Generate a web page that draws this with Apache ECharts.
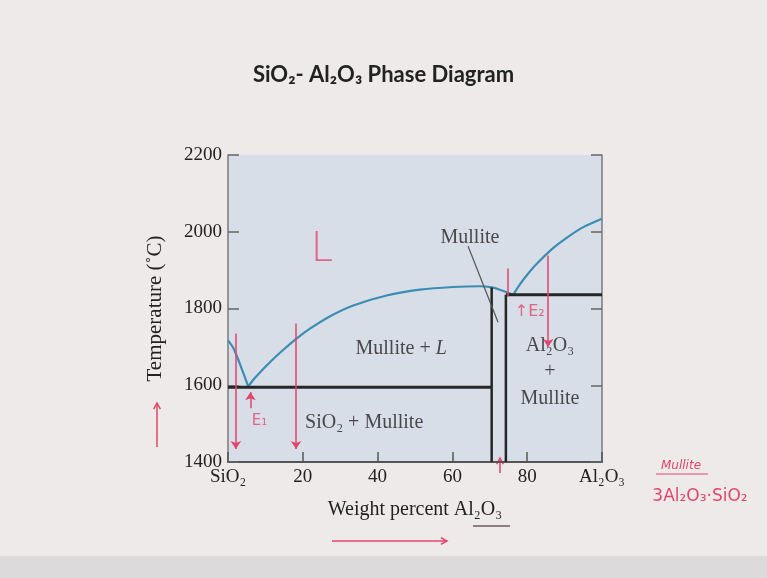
<!DOCTYPE html>
<html><head><meta charset="utf-8">
<script src="https://cdn.jsdelivr.net/npm/echarts@6/dist/echarts.min.js"></script>
<style>html,body{margin:0;padding:0;background:#eeeaea;} #c{width:767px;height:578px;}</style>
</head><body><div id="c"></div>
<script>
// ---- data ----
const xTickValues = [0, 20, 40, 60, 80, 100];
const xTickLabels = ['SiO₂', '20', '40', '60', '80', 'Al₂O₃'];
const yTickValues = [1400, 1600, 1800, 2000, 2200];

const liquidusSiO2 = [[0,1717],[1.5,1696],[3.2,1655],[4.5,1621],[5.4,1597]];
const liquidusMullite = [[5.4,1597],[7,1617],[9,1638],[11.2,1660],[14.5,1690],[18.4,1722],[22,1748],[27.3,1780],[33.5,1808],[42.4,1834],[51.3,1849],[60.2,1856],[67.4,1858],[70.5,1855],[72.7,1849],[75.4,1839],[76.3,1836]];
const liquidusAl2O3 = [[76.3,1836],[78,1862],[80,1888],[82.5,1916],[87,1958],[91.4,1990],[95,2012],[100,2034]];
const eutecticLine = [[0,1595],[70.5,1595]];
const peritecticLine = [[74.3,1836],[100,1836]];
const mulliteLeft = [[70.5,1400],[70.5,1855]];
const mulliteRight = [[74.3,1400],[74.3,1836]];
const leaderLine = [[64.2,1962],[72.2,1764]];

const regionLabelText = ['Mullite', 'Mullite + {i|L}', 'Al₂O₃', '+', 'Mullite', 'SiO₂ + Mullite'];
const regionLabelPos = [[64.7,1984],[46.3,1696],[86.1,1704],[86.1,1634],[86.1,1566],[36.4,1501]];

const noteArrowSegs = [[[2.1,1735],[2.1,1434]], [[18.2,1761],[18.2,1434]], [[6.0,1540],[6.0,1582]], [[85.6,1938],[85.6,1700]]];
const notePlainSegs = [[[74.9,1904],[74.9,1831]]];
const noteText = ['L', 'E₁', '↑E₂'];
const noteTextPos = [[25.1,1951],[8.4,1506],[80.7,1790]];
const noteTextSize = [40, 15, 16];
const noteTextWeight = ['lighter', 'normal', 'normal'];

// ---- chart ----
const chart = echarts.init(document.getElementById('c'));
const serif = 'Liberation Serif';
const red = '#e3456a';
const teal = '#3b8db3';
const dark = '#262626';

function lineSeries(data, color, width) {
  return { type: 'line', data: data, showSymbol: false, symbol: 'none', silent: true,
    lineStyle: { color: color, width: width }, z: 3 };
}
function curveSeries(data) {
  return Object.assign(lineSeries(data, teal, 2.2), { smooth: 0.3 });
}

const labelData = regionLabelPos.map((p, i) => ({ value: p, name: regionLabelText[i] }));
const noteData = noteTextPos.map((p, i) => ({ value: p, name: noteText[i],
  label: { fontSize: noteTextSize[i], fontWeight: noteTextWeight[i] } }));

const markSegs = noteArrowSegs.map(s => [{ coord: s[0], symbol: 'none' }, { coord: s[1], symbol: 'arrow' }])
  .concat(notePlainSegs.map(s => [{ coord: s[0], symbol: 'none' }, { coord: s[1], symbol: 'none' }]));

function arrow(x1, y1, x2, y2) {
  const a = Math.atan2(y2 - y1, x2 - x1), L = 7, w = 0.5;
  return [
    { type: 'line', shape: { x1, y1, x2, y2 }, style: { stroke: red, lineWidth: 1.5 } },
    { type: 'polyline', shape: { points: [[x2 - L*Math.cos(a-w), y2 - L*Math.sin(a-w)], [x2, y2], [x2 - L*Math.cos(a+w), y2 - L*Math.sin(a+w)]] }, style: { stroke: red, lineWidth: 1.5, fill: null } }
  ];
}

chart.setOption({
  backgroundColor: '#eeeaea',
  animation: false,
  title: {
    text: 'SiO₂- Al₂O₃ Phase Diagram', left: 'center', top: 59,
    textStyle: { fontFamily: 'Lato', fontWeight: 'bold', fontSize: 22, color: '#222' }
  },
  grid: { left: 228, right: 165, top: 155, bottom: 116, show: true,
    backgroundColor: '#d8dee7', borderWidth: 0 },
  xAxis: {
    type: 'value', min: 0, max: 100, interval: 20,
    name: 'Weight percent Al₂O₃', nameLocation: 'middle', nameGap: 38,
    nameTextStyle: { fontFamily: serif, fontSize: 20, color: '#222' },
    axisLine: { show: true, lineStyle: { color: '#555', width: 2 } },
    axisTick: { show: true, inside: true, length: 10, lineStyle: { color: '#555', width: 1.5 } },
    axisLabel: { fontFamily: serif, fontSize: 19, color: '#222', margin: 6,
      formatter: v => { const i = xTickValues.indexOf(v); return i >= 0 ? xTickLabels[i] : ''; } },
    splitLine: { show: false }
  },
  yAxis: [{
    type: 'value', min: 1400, max: 2200, interval: 200,
    name: 'Temperature (˚C)', nameLocation: 'middle', nameGap: 62, nameRotate: 90,
    nameTextStyle: { fontFamily: serif, fontSize: 21, color: '#222' },
    axisLine: { show: true, lineStyle: { color: '#7a7a7a', width: 1.5 } },
    axisTick: { show: true, inside: true, length: 11, lineStyle: { color: '#666', width: 1.5 } },
    axisLabel: { fontFamily: serif, fontSize: 19, color: '#222', margin: 6,
      formatter: v => yTickValues.indexOf(v) >= 0 ? String(v) : '' },
    splitLine: { show: false }
  }, {
    type: 'value', min: 1400, max: 2200, interval: 200, position: 'right',
    axisLine: { show: true, lineStyle: { color: '#7a7a7a', width: 1.5 } },
    axisTick: { show: true, inside: true, length: 11, lineStyle: { color: '#666', width: 1.5 } },
    axisLabel: { show: false }, splitLine: { show: false }
  }],
  series: [
    curveSeries(liquidusSiO2),
    curveSeries(liquidusMullite),
    curveSeries(liquidusAl2O3),
    lineSeries(eutecticLine, dark, 3),
    lineSeries(peritecticLine, dark, 3),
    lineSeries(mulliteLeft, dark, 2.5),
    lineSeries(mulliteRight, dark, 2.5),
    lineSeries(leaderLine, '#555', 1.2),
    {
      type: 'scatter', data: labelData, symbolSize: 1, itemStyle: { color: 'transparent' }, silent: true, z: 5,
      label: { show: true, position: 'inside', formatter: '{b}', fontFamily: serif, fontSize: 20, color: '#222',
        rich: { i: { fontFamily: serif, fontStyle: 'italic', fontSize: 20, color: '#222' } } }
    },
    {
      type: 'scatter', data: noteData, symbolSize: 1, itemStyle: { color: 'transparent' }, silent: true, z: 6,
      label: { show: true, position: 'inside', formatter: '{b}', fontFamily: 'DejaVu Sans', color: red },
      markLine: { silent: true, symbolSize: 8, label: { show: false },
        lineStyle: { color: red, width: 1.5, type: 'solid' }, data: markSegs }
    }
  ],
  graphic: [].concat(
    [{ type: 'rect', shape: { x: 0, y: 556, width: 767, height: 22 }, style: { fill: '#dddadb' }, z: -1 }],
    arrow(157, 447, 157, 403),
    arrow(332, 541, 447, 541),
    arrow(500, 473, 500, 458),
    [
      { type: 'line', shape: { x1: 473, y1: 526, x2: 510, y2: 526 }, style: { stroke: '#6a5a5c', lineWidth: 1.5 } },
      { type: 'text', x: 681, y: 466, style: { text: 'Mullite', font: 'italic 12px DejaVu Sans', fill: red, align: 'center', verticalAlign: 'middle' } },
      { type: 'line', shape: { x1: 656, y1: 474, x2: 708, y2: 474 }, style: { stroke: red, lineWidth: 1.2 } },
      { type: 'text', x: 700, y: 497, style: { text: '3Al₂O₃·SiO₂', font: '17px DejaVu Sans', fill: red, align: 'center', verticalAlign: 'middle' } }
    ]
  )
});
</script></body></html>
